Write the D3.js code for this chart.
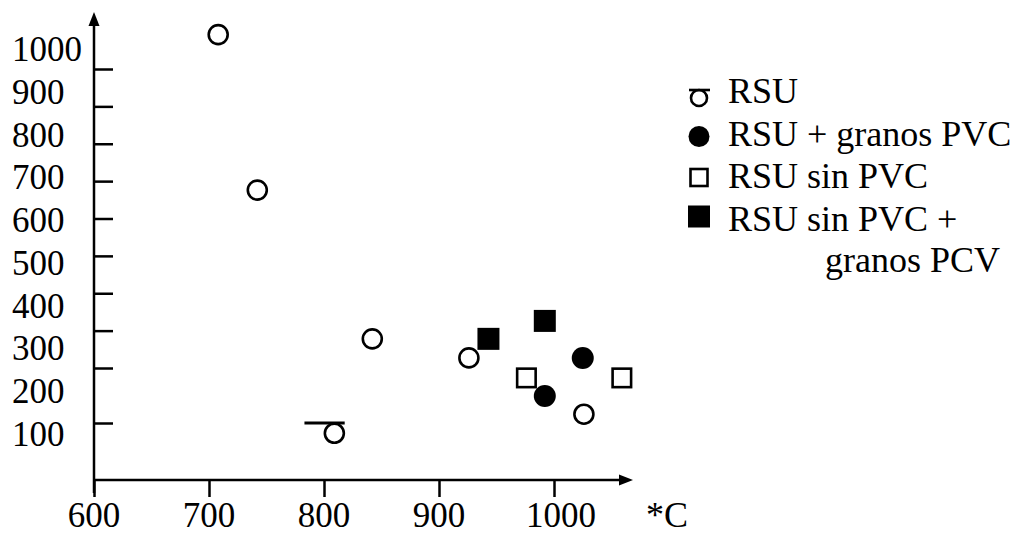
<!DOCTYPE html>
<html>
<head>
<meta charset="utf-8">
<script src="https://cdn.jsdelivr.net/npm/d3@7"></script>
<style>
  html, body { margin: 0; padding: 0; background: #fff; }
  svg { display: block; }
  text { font-family: "Liberation Serif", "Times New Roman", Times, Tinos, "DejaVu Serif", serif; fill: #000; }
</style>
</head>
<body>
<svg id="chart" width="1028" height="535"></svg>
<script>
// ---- data ----
const xTicks = [600, 700, 800, 900, 1000];
const yTicks = [100, 200, 300, 400, 500, 600, 700, 800, 900, 1000];
const xUnit = "*C";

// RSU (open circles)
const rsuX = [708, 742, 842, 926, 1026, 809];
const rsuY = [1092, 676, 278, 227, 116, 82];
// RSU + granos PVC (filled circles)
const rsuPvcX = [1025, 992];
const rsuPvcY = [227, 149];
// RSU sin PVC (open squares)
const sinPvcX = [976, 1059];
const sinPvcY = [182, 182];
// RSU sin PVC + granos PCV (filled squares)
const sinPvcGranX = [943, 992];
const sinPvcGranY = [278, 326];
// horizontal bar drawn over the RSU point near 800 / 100
const barX = [783, 818];
const barY = [100];

const legendLabels = [["RSU"], ["RSU + granos PVC"], ["RSU sin PVC"], ["RSU sin PVC +", "granos PCV"]];
const legendSymbols = ["circleBar", "filledCircle", "openSquare", "filledSquare"];

// ---- layout ----
const FONT = '"Liberation Serif", "Times New Roman", Times, Tinos, "DejaVu Serif", serif';
const svg = d3.select("#chart");
const x = d3.scaleLinear().domain([600, 1000]).range([94, 554]);
// hand-drawn axis: uneven spacing below 200
const y = d3.scaleLinear().domain([0, 100, 200, 1000]).range([480, 423, 368, 69]);
// tick labels are spaced evenly, independent of the tick marks
const yLabel = d3.scaleLinear().domain([100, 1000]).range([446, 61]);

const fontSize = 35;
const legendFont = 36;

// axes lines with arrows
const axisG = svg.append("g");
axisG.append("line").attr("x1", x(600)).attr("x2", x(600)).attr("y1", 22).attr("y2", 493)
  .attr("stroke", "#000").attr("stroke-width", 2.5);
axisG.append("path").attr("d", `M${x(600)},12 L${x(600) - 5.5},26 L${x(600) + 5.5},26 Z`).attr("fill", "#000");
axisG.append("line").attr("x1", x(600)).attr("x2", 622).attr("y1", y(0)).attr("y2", y(0))
  .attr("stroke", "#000").attr("stroke-width", 2.5);
axisG.append("path").attr("d", `M633,${y(0)} L619,${y(0) - 5.5} L619,${y(0) + 5.5} Z`).attr("fill", "#000");

// x ticks
const xAxis = d3.axisBottom(x).tickValues(xTicks).tickSize(17).tickFormat("");
const gx = svg.append("g").attr("transform", `translate(0,${y(0)})`).call(xAxis);
gx.select(".domain").remove();
gx.selectAll(".tick line").attr("stroke", "#000").attr("stroke-width", 2.5);

svg.append("g").selectAll("text").data(xTicks).join("text")
  .attr("x", d => x(d) + (d >= 1000 ? 7 : 0)).attr("y", 527)
  .attr("text-anchor", "middle").attr("font-family", FONT).style("font-size", fontSize + "px").text(d => d);
svg.append("text").attr("x", 646).attr("y", 527).attr("font-family", FONT)
  .style("font-size", legendFont + "px").text(xUnit);

// y ticks (pointing inward)
const yAxis = d3.axisLeft(y).tickValues(yTicks).tickSize(-19).tickFormat("");
const gy = svg.append("g").attr("transform", `translate(${x(600)},0)`).call(yAxis);
gy.select(".domain").remove();
gy.selectAll(".tick line").attr("stroke", "#000").attr("stroke-width", 2.5);

svg.append("g").selectAll("text").data(yTicks).join("text")
  .attr("x", 12).attr("y", d => yLabel(d)).attr("font-family", FONT)
  .attr("text-anchor", "start").style("font-size", fontSize + "px").text(d => d);

// ---- marks ----
const marks = svg.append("g");
const rOpen = 9.5, rFill = 11, sqOpen = 18.5, sqFill = 22;

marks.selectAll(".rsu").data(d3.range(rsuX.length)).join("circle")
  .attr("cx", i => x(rsuX[i])).attr("cy", i => y(rsuY[i])).attr("r", rOpen)
  .attr("fill", "#fff").attr("stroke", "#000").attr("stroke-width", 2.6);

marks.append("line").attr("x1", x(barX[0])).attr("x2", x(barX[1]))
  .attr("y1", y(barY[0])).attr("y2", y(barY[0])).attr("stroke", "#000").attr("stroke-width", 3);

marks.selectAll(".rsupvc").data(d3.range(rsuPvcX.length)).join("circle")
  .attr("cx", i => x(rsuPvcX[i])).attr("cy", i => y(rsuPvcY[i])).attr("r", rFill)
  .attr("fill", "#000");

marks.selectAll(".sinpvc").data(d3.range(sinPvcX.length)).join("rect")
  .attr("x", i => x(sinPvcX[i]) - sqOpen / 2).attr("y", i => y(sinPvcY[i]) - sqOpen / 2)
  .attr("width", sqOpen).attr("height", sqOpen)
  .attr("fill", "#fff").attr("stroke", "#000").attr("stroke-width", 2.6);

marks.selectAll(".sinpvcgran").data(d3.range(sinPvcGranX.length)).join("rect")
  .attr("x", i => x(sinPvcGranX[i]) - sqFill / 2).attr("y", i => y(sinPvcGranY[i]) - sqFill / 2)
  .attr("width", sqFill).attr("height", sqFill).attr("fill", "#000");

// ---- legend ----
const lg = svg.append("g").attr("transform", "translate(699,0)");
const rowBase = 103, rowStep = 42.5;
legendLabels.forEach((lines, i) => {
  const base = rowBase + i * rowStep;
  const cy = base - 7;
  const sym = legendSymbols[i];
  if (sym === "circleBar") {
    lg.append("circle").attr("cx", 0).attr("cy", cy + 2).attr("r", 8)
      .attr("fill", "#fff").attr("stroke", "#000").attr("stroke-width", 2.6);
    lg.append("line").attr("x1", -10).attr("x2", 11).attr("y1", cy - 6).attr("y2", cy - 6)
      .attr("stroke", "#000").attr("stroke-width", 2.6);
  } else if (sym === "filledCircle") {
    lg.append("circle").attr("cx", 0).attr("cy", cy - 2).attr("r", 10.5).attr("fill", "#000");
  } else if (sym === "openSquare") {
    lg.append("rect").attr("x", -8.5).attr("y", cy - 12).attr("width", 17).attr("height", 17)
      .attr("fill", "#fff").attr("stroke", "#000").attr("stroke-width", 2.6);
  } else {
    lg.append("rect").attr("x", -11).attr("y", cy - 18).attr("width", 22).attr("height", 22).attr("fill", "#000");
  }
  lines.forEach((t, j) => {
    lg.append("text").attr("x", j === 0 ? 29 : 126).attr("y", base + j * 41)
      .attr("font-family", FONT).style("font-size", legendFont + "px").text(t);
  });
});
</script>
</body>
</html>
